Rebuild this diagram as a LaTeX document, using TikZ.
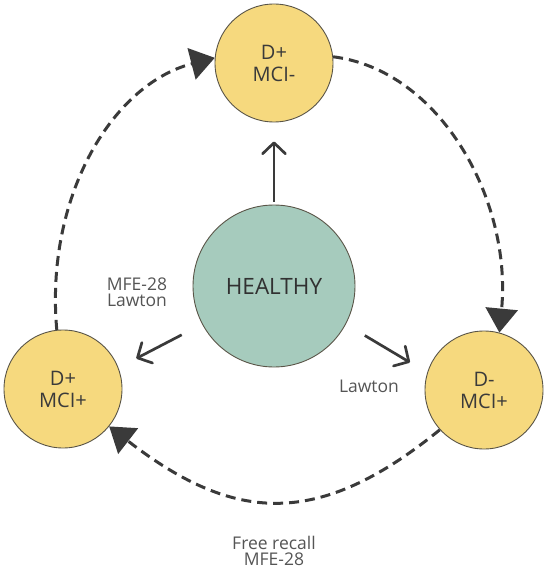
\documentclass[tikz,border=0pt]{standalone}
\usepackage{fontspec}
\setmainfont{Open Sans}
\usetikzlibrary{arrows.meta}
\definecolor{ylw}{HTML}{F6D97E}
\definecolor{grn}{HTML}{A6CBBD}
\definecolor{edge}{HTML}{5A5548}
\definecolor{ink}{HTML}{3A3A3A}
\definecolor{lbl}{HTML}{555555}
\tikzset{
  state/.style={circle, draw=edge, line width=0.9pt, fill=ylw, minimum size=118pt, inner sep=0pt,
    text=ink, align=center, font=\fontsize{20}{22}\selectfont},
  healthy/.style={circle, draw=edge, line width=0.9pt, fill=grn, minimum size=162pt, inner sep=0pt,
    text=ink!85!black, font=\fontsize{22.5}{26}\selectfont},
  solidarrow/.style={draw=ink, line width=2.7pt, -{Straight Barb[length=11pt,width=23pt,round]}},
  dasharrow/.style={draw=ink, line width=3pt, dash pattern=on 10pt off 6pt,
    -{Triangle[length=24pt,width=32pt]}},
  lab/.style={text=lbl, align=center, font=\fontsize{17.5}{16.5}\selectfont}
}
\begin{document}
\begin{tikzpicture}[x=1pt,y=-1pt]
\useasboundingbox (0,0) rectangle (550,572);
\node[state] (t) at (274,63) {D+\\MCI-};
\node[healthy] (h) at (274,286) {HEALTHY};
\node[state] (l) at (63,389) {D+\\MCI+};
\node[state] (r) at (484,390) {D-\\MCI+};
% solid arrows
\draw[solidarrow, shorten <=3pt, shorten >=19pt] (h.north) -- (t.south);
\draw[solidarrow, shorten <=23pt, shorten >=20pt] (h.208) -- (l.21);
\draw[solidarrow, shorten <=22pt, shorten >=20pt] (h.332) -- (r.163);
% dashed arrows
\draw[dasharrow] (l.96) .. controls (45,200) and (110,85) .. (t.175);
\draw[dasharrow] (t.6) .. controls (440,70) and (512,200) .. (r.75);
\draw[dasharrow] (r.222) .. controls (319,528) and (235,524) .. (l.321);
% labels
\node[lab] (la) at (137,292) {MFE-28\\Lawton};
\node[lab] (lb) at (369,386) {Lawton};
\node[lab] (lc) at (274,551) {Free recall\\MFE-28};
\end{tikzpicture}
\end{document}
